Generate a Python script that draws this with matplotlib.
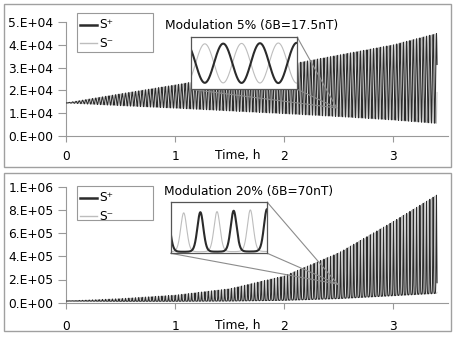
import numpy as np
import matplotlib
matplotlib.use("Agg")
import matplotlib.pyplot as plt
from matplotlib.lines import Line2D
from matplotlib.patches import Rectangle
from matplotlib.ticker import FixedLocator, FuncFormatter

plt.rcParams['font.family'] = ['DejaVu Sans']
FS = 8.8

# ---- data ----
t_knots = [0, 0.5, 1, 1.5, 2, 2.5, 3, 3.4]          # hours
top_upper = [1.45e4, 1.85e4, 2.24e4, 2.65e4, 3.10e4, 3.55e4, 4.00e4, 4.50e4]
top_lower = [1.45e4, 1.33e4, 1.22e4, 1.10e4, 0.98e4, 0.85e4, 0.70e4, 0.55e4]
bot_upper = [1.45e4, 3.5e4, 6.5e4, 1.2e5, 2.3e5, 4.3e5, 7.0e5, 9.3e5]
bot_lower = [1.45e4, 1.2e4, 1.2e4, 1.4e4, 2.0e4, 3.5e4, 6.0e4, 8.0e4]
cycles_per_hour = 33.0
t_end = 3.4
x_ticks = [0, 1, 2, 3]
top_yticks = [0, 1e4, 2e4, 3e4, 4e4, 5e4]
bot_yticks = [0, 2e5, 4e5, 6e5, 8e5, 1e6]
titles = ["Modulation 5% (\u03b4B=17.5nT)", "Modulation 20% (\u03b4B=70nT)"]
labels = ["S\u207a", "S\u207b"]
zoom_target = [(2.48, 1.23e4), (2.49, 1.6e5)]

T = 1.0 / cycles_per_hour
t = np.linspace(0, t_end, 60000)
ph = 2 * np.pi * t / T

def series_sin(up, lo):
    U = np.interp(t, t_knots, up); L = np.interp(t, t_knots, lo)
    sp = L + (U - L) * (1 + np.cos(ph)) / 2
    sm = L + (U - L) * (1 - np.cos(ph)) / 2
    return sp, sm

def series_peak(up, lo, k=3.2):
    U = np.interp(t, t_knots, up); L = np.interp(t, t_knots, lo)
    g = lambda c: (np.exp(k * c) - np.exp(-k)) / (np.exp(k) - np.exp(-k))
    return L + (U - L) * g(np.cos(ph)), L + (U - L) * g(-np.cos(ph))

data = [series_sin(top_upper, top_lower), series_peak(bot_upper, bot_lower)]

W, H = 453, 340
fig = plt.figure(figsize=(W / 100, H / 100), dpi=100)

def fx(px): return px / W
def fy(py): return 1 - py / H

frame_col = '#a0a0a0'
fig.patches.append(Rectangle((fx(4), fy(166.5)), fx(451) - fx(4), fy(4) - fy(166.5),
                             transform=fig.transFigure, fill=False, ec=frame_col, lw=1))
fig.patches.append(Rectangle((fx(4), fy(331)), fx(451) - fx(4), fy(172.5) - fy(331),
                             transform=fig.transFigure, fill=False, ec=frame_col, lw=1))

axes_px = [(66, 448, 22, 136), (66, 448, 186.7, 302.7)]
yticks_all = [top_yticks, bot_yticks]
ylims = [(0, 5e4), (0, 1e6)]
xpads = [6.0, 8.2]
legend_px = [(76.7, 153, 13.3, 51.7), (76.7, 153, 186, 219.5)]
title_px = [(165, 25), (164, 191)]
inset_px = [(190.7, 297.3, 37.3, 89.3), (170.7, 267.3, 202.3, 253.3)]
inset_start_frac = [1 / 6, 0.16]
inset_margins = [(0.12, 0.11), (0.03, 0.15)]

dark = '#2b2b2b'
light = '#bdbdbd'
axis_col = '#999999'

def fmt(v, pos):
    if v == 0:
        return "0.E+00"
    e = int(np.floor(np.log10(abs(v)) + 1e-9))
    m = v / 10 ** e
    return f"{int(round(m))}.E+{e:02d}"

for i in range(2):
    x0, x1, y0, y1 = axes_px[i]
    ax = fig.add_axes([fx(x0), fy(y1), fx(x1) - fx(x0), fy(y0) - fy(y1)])
    sp, sm = data[i]
    ax.plot(t, sm, color=light, lw=0.5, zorder=2)
    ax.plot(t, sp, color=dark, lw=0.75, zorder=3)
    ax.set_xlim(0, 3.5)
    ax.set_ylim(*ylims[i])
    for s in ['top', 'right']:
        ax.spines[s].set_visible(False)
    for s in ['left', 'bottom']:
        ax.spines[s].set_color(axis_col)
        ax.spines[s].set_linewidth(0.8)
    ax.xaxis.set_major_locator(FixedLocator(x_ticks))
    ax.set_xticklabels([str(v) for v in x_ticks])
    ax.yaxis.set_major_locator(FixedLocator(yticks_all[i]))
    ax.yaxis.set_major_formatter(FuncFormatter(fmt))
    ax.tick_params(axis='x', direction='out', length=4, color=axis_col, labelsize=FS, pad=xpads[i])
    ax.tick_params(axis='y', direction='out', length=6, color=axis_col, labelsize=FS, pad=3.0)
    ax.patch.set_alpha(0)
    ax.annotate("Time, h", xy=(1.57, 0), xycoords=('data', 'axes fraction'),
                xytext=(0, -(4 + xpads[i] / 0.72 + 7.0)), textcoords='offset pixels',
                ha='center', va='center', fontsize=FS)
    # legend drawn by hand (box, line samples, labels)
    lx0, lx1, ly0, ly1 = legend_px[i]
    fig.patches.append(Rectangle((fx(lx0), fy(ly1)), fx(lx1) - fx(lx0), fy(ly0) - fy(ly1),
                                 transform=fig.transFigure, fill=True, fc='white',
                                 ec=axis_col, lw=0.8, zorder=6))
    rows = [ly0 + 11.5, ly0 + 30]
    styles = [(dark, 1.8), (light, 1.0)]
    for r, (c, lw), lab in zip(rows, styles, labels):
        fig.lines.append(Line2D([fx(lx0 + 3.5), fx(lx0 + 20)], [fy(r), fy(r)],
                                transform=fig.transFigure, color=c, lw=lw, zorder=7))
        fig.text(fx(lx0 + 22.5), fy(r), lab, ha='left', va='center', fontsize=FS, zorder=7)
    tx, ty = title_px[i]
    fig.text(fx(tx), fy(ty), titles[i], ha='left', va='center', fontsize=FS)

    # inset (zoom of same series)
    a0, a1, b0, b1 = inset_px[i]
    ins = fig.add_axes([fx(a0), fy(b1), fx(a1) - fx(a0), fy(b0) - fy(b1)], zorder=5)
    tz, vz = zoom_target[i]
    ts = T * (np.round((tz - 0.04) / T) + inset_start_frac[i])
    te = ts + 2.8 * T
    m = (t >= ts - T) & (t <= te + T)
    ins.plot(t[m], sm[m], color=light, lw=0.8)
    ins.plot(t[m], sp[m], color=dark, lw=1.5)
    ins.set_xlim(ts - 0.05 * T, te + 0.05 * T)
    mm = (t >= ts) & (t <= te)
    lo = min(sp[mm].min(), sm[mm].min()); hi = max(sp[mm].max(), sm[mm].max())
    R = hi - lo
    bm, tm = inset_margins[i]
    rng = 1 - bm - tm
    ins.set_ylim(lo - bm / rng * R, hi + tm / rng * R)
    ins.set_xticks([]); ins.set_yticks([])
    for s in ins.spines.values():
        s.set_color('#555555'); s.set_linewidth(0.9)

    fig.canvas.draw()
    tgt = fig.transFigure.inverted().transform(ax.transData.transform((tz, vz)))
    corners = [(fx(a1), fy(b0)), (fx(a1), fy(b1)), (fx(a0), fy(b1))]
    for cx, cy in corners:
        fig.lines.append(Line2D([cx, tgt[0]], [cy, tgt[1]], transform=fig.transFigure,
                                color='#8c8c8c', lw=0.8, zorder=4))

fig.savefig("out.png", dpi=100)
